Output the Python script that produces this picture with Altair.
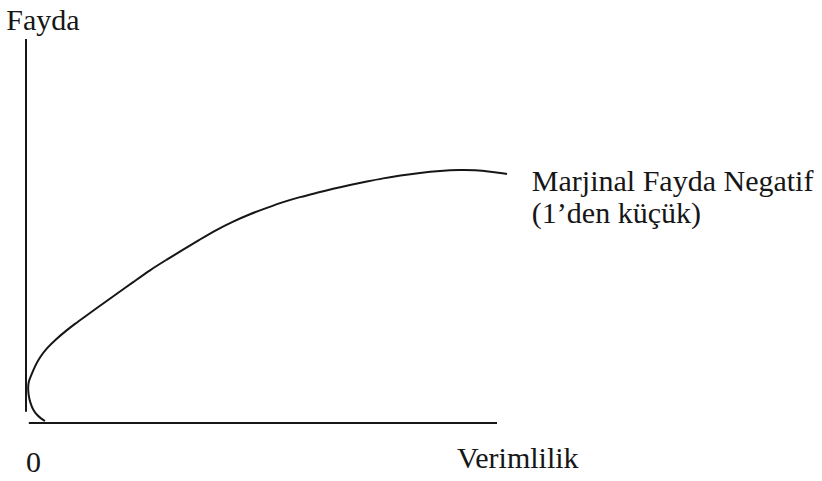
import altair as alt
import pandas as pd

# Utility curve: Verimlilik (x) against Fayda (y), listed in drawing order
# (it starts at the foot of the vertical axis, bends back, then rises and flattens)
curve_x = [0.403, 0.318, 0.234, 0.149, 0.085, 0.053, 0.042, 0.057, 0.106, 0.191,
           0.297, 0.446, 0.616, 0.870, 1.040, 1.210, 1.571, 1.932, 2.272, 2.633,
           2.994, 3.333, 3.694, 4.055, 4.395, 4.756, 5.117, 5.456, 5.817, 6.178,
           6.518, 6.879, 7.240, 7.580, 7.941, 8.365, 8.790, 9.214, 9.533, 9.851,
           10.212]
curve_y = [0.052, 0.117, 0.208, 0.339, 0.547, 0.729, 0.938, 1.094, 1.224, 1.484,
           1.719, 1.953, 2.161, 2.422, 2.583, 2.734, 3.052, 3.370, 3.664, 3.984,
           4.258, 4.516, 4.779, 5.039, 5.247, 5.443, 5.604, 5.755, 5.885, 5.995,
           6.099, 6.198, 6.289, 6.372, 6.445, 6.516, 6.568, 6.596, 6.589, 6.549,
           6.484]

# Hand-drawn axis strokes (start/end in data units)
axis_x = [0.06, 0.0]
axis_x2 = [10.0, 0.0]
axis_y = [0.0, 0.29]
axis_y2 = [0.0, 10.0]

# Text annotations
label_text = ["Fayda", "0", "Verimlilik", "Marjinal Fayda Negatif", "(1’den küçük)"]
label_x = [-0.42, 0.0, 9.15, 10.74, 10.74]
label_y = [10.23, -1.28, -1.17, 6.04, 5.21]

curve = pd.DataFrame({"x": curve_x, "y": curve_y, "i": range(len(curve_x))})
axes = pd.DataFrame({"x": axis_x, "x2": axis_x2, "y": axis_y, "y2": axis_y2})
labels = pd.DataFrame({"t": label_text, "x": label_x, "y": label_y})

xs = alt.Scale(domain=[0, 10], nice=False, zero=False)
ys = alt.Scale(domain=[0, 10], nice=False, zero=False)
ink = "#161616"

axis_lines = alt.Chart(axes).mark_rule(color=ink, strokeWidth=2).encode(
    x=alt.X("x:Q", scale=xs, axis=None),
    x2="x2:Q",
    y=alt.Y("y:Q", scale=ys, axis=None),
    y2="y2:Q",
)

line = alt.Chart(curve).mark_line(
    color=ink, strokeWidth=2, interpolate="basis", clip=False
).encode(
    x=alt.X("x:Q", scale=xs, axis=None),
    y=alt.Y("y:Q", scale=ys, axis=None),
    order="i:Q",
)

text = alt.Chart(labels).mark_text(
    font="Liberation Serif", fontSize=30, color=ink,
    align="left", baseline="alphabetic",
).encode(
    x=alt.X("x:Q", scale=xs, axis=None),
    y=alt.Y("y:Q", scale=ys, axis=None),
    text="t:N",
)

chart = (
    alt.layer(axis_lines, line, text)
    .properties(
        width=471,
        height=384,
        autosize=alt.AutoSizeParams(type="none"),
        padding={"left": 26, "top": 39, "right": 325, "bottom": 58},
        background="white",
    )
    .configure_view(stroke=None)
)

chart.save("out.html", embed_options={"renderer": "svg", "actions": False})
